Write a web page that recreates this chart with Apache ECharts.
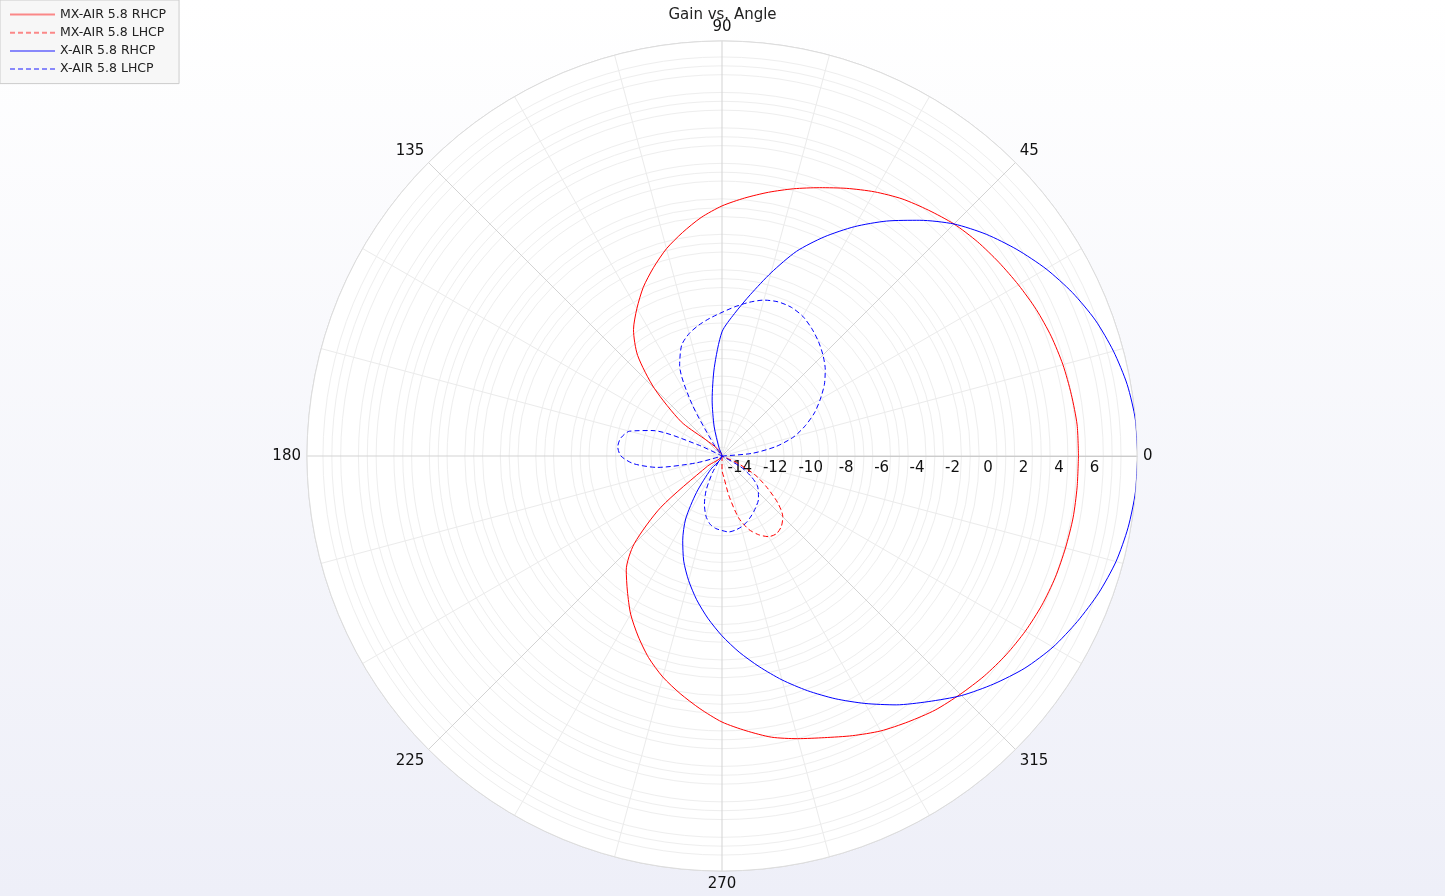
<!DOCTYPE html>
<html>
<head>
<meta charset="utf-8">
<script src="https://cdn.jsdelivr.net/npm/echarts@6/dist/echarts.min.js"></script>
<style>
html,body{margin:0;padding:0;width:1445px;height:896px;overflow:hidden;}
#chart{width:1445px;height:896px;}
</style>
</head>
<body>
<div id="chart"></div>
<script>
// Angles in degrees (every 5°)
const angles = [0,5,10,15,20,25,30,35,40,45,50,55,60,65,70,75,80,85,90,95,100,105,110,115,120,125,130,135,140,145,150,155,160,165,170,175,180,185,190,195,200,205,210,215,220,225,230,235,240,245,250,255,260,265,270,275,280,285,290,295,300,305,310,315,320,325,330,335,340,345,350,355,360];

const seriesNames = ['MX-AIR 5.8 RHCP','MX-AIR 5.8 LHCP','X-AIR 5.8 RHCP','X-AIR 5.8 LHCP'];

// Gain (dB) per angle
const mxRHCP = [5.1,5.1,5.0,4.9,4.75,4.55,4.3,4.05,3.8,3.5,
  3.1,2.7,2.2,1.65,1.1,0.6,0.1,-0.4,-0.9,-1.5,
  -2.2,-2.9,-3.7,-4.5,-5.4,-6.3,-7.6,-9.6,-12.0,-15,
  -15,-15,-15,-15,-15,-15,-15,-15,-15,-15,-15,-15,-15,
  -14.0,-10.5,-8.0,-6.6,-5.7,-4.7,-3.8,-2.9,-2.1,-1.4,-0.7,
  0.0,0.55,1.1,1.5,1.9,2.4,2.9,3.3,3.7,4.0,4.3,4.55,4.75,4.9,5.0,5.05,5.1,5.1,5.1];

const mxLHCP = [-15,-15,-15,-15,-15,-15,-15,-15,-15,-15,
  -15,-15,-15,-15,-15,-15,-15,-15,-15,-15,
  -15,-15,-15,-15,-15,-15,-15,-15,-15,-15,
  -15,-15,-15,-15,-15,-15,-15,-15,-15,-15,
  -15,-15,-15,-15,-15,-15,-15,-15,-15,-15,
  -15,-15,-15,-15,
  -14.2,-13.8,-12.7,-11.4,-10.6,-10.1,-9.75,-9.65,-9.8,-10.15,-10.9,-11.9,-12.8,-14.0,
  -15,-15,-15,-15,-15];

const xRHCP = [8.44,8.4,8.2,7.85,7.4,6.8,6.1,5.3,4.45,3.5,2.35,1.17,-0.07,-1.37,-2.72,-4.3,-5.75,-6.94,-8.0,-10.0,-11.8,-13.3,-14.5,
  -15,-15,-15,-15,-15,-15,-15,-15,-15,-15,-15,-15,-15,-15,-15,-15,-15,-15,-15,-15,-15,-15,-15,
  -14.0,-12.5,-10.9,-9.76,-8.69,-7.73,-6.77,-5.82,-4.86,-3.9,-2.94,-1.93,-0.92,0.1,1.11,2.13,3.08,4.1,5.0,5.85,6.55,7.1,7.6,8.0,8.25,8.4,8.44];

const xLHCP = [-15,-13.3,-11.9,-10.8,-10.0,-9.25,-8.6,-7.95,-7.4,-6.95,-6.55,-6.2,-5.9,-5.75,-5.75,-5.9,-6.2,-6.55,-6.9,-7.2,-7.5,-7.85,-8.35,-9.35,-11.6,-14.15,
  -15,-15,-15,-15,-15,
  -13.5,-10.8,-9.6,-9.2,-9.1,-9.3,-10.0,-11.3,-13.5,
  -15,-15,-15,-15,-15,-15,-15,-15,
  -14.0,-12.9,-12.1,-11.5,-11.1,-10.9,-10.8,-10.7,-10.75,-10.85,-11.0,-11.2,-11.4,-11.6,-11.8,-12.1,-12.4,-13.0,-13.8,
  -15,-15,-15,-15,-15,-15];

const angleTicks = [0,45,90,135,180,225,270,315];

const chart = echarts.init(document.getElementById('chart'), null, {renderer:'canvas'});
const FONT = 'DejaVu Sans';

function pairs(vals){ return vals.map((v,i)=>[v, angles[i]]); }

const colors = ['#ff0000','#ff0000','#0000ff','#0000ff'];
const dashed = [false,true,false,true];
const valueSets = [mxRHCP, mxLHCP, xRHCP, xLHCP];

const option = {
  animation:false,
  backgroundColor: new echarts.graphic.LinearGradient(0,0,0,1,[
    {offset:0,color:'#ffffff'},{offset:1,color:'#eeeff8'}
  ]),
  textStyle:{fontFamily:FONT},
  title:{
    text:'Gain vs. Angle', left:'center', top:3,
    textStyle:{fontFamily:FONT,fontSize:15,fontWeight:'normal',color:'#222'}
  },
  legend:{
    show:true,
    left:0, top:0, orient:'vertical',
    data: seriesNames,
    backgroundColor:'#f7f7f7', borderColor:'#cccccc', borderWidth:1,
    padding:[8,13,8,9],
    itemWidth:45, itemHeight:14, itemGap:5.2, itemTextGap:7,
    itemStyle:{opacity:0},
    lineStyle:{opacity:0.45},
    textStyle:{fontFamily:FONT,fontSize:12.5,color:'#222'}
  },
  polar:{center:[722,456], radius:415},
  angleAxis:{
    type:'value', min:0, max:360, interval:45, startAngle:0, clockwise:false,
    axisLine:{show:true,lineStyle:{color:'#dddddd',width:1}},
    axisTick:{show:false},
    axisLabel:{show:true,margin:6,fontFamily:FONT,fontSize:15,color:'#111',
      formatter:function(v){ return angleTicks.indexOf(v)>=0 ? String(v) : ''; }},
    splitLine:{show:true,lineStyle:{color:'#d3d3d3',width:1}},
    minorTick:{show:false,splitNumber:3},
    minorSplitLine:{show:true,lineStyle:{color:'#ebebeb',width:1}}
  },
  radiusAxis:{
    type:'value', min:-15, max:8.4, splitNumber:12,
    axisLine:{show:true,lineStyle:{color:'#cccccc'}},
    axisTick:{show:false},
    axisLabel:{show:true,fontFamily:FONT,fontSize:15,color:'#111',margin:-5,verticalAlign:'top',
      formatter:function(v){ return (v>-14.5 && v<7) ? String(v) : ''; }},
    splitLine:{show:true,lineStyle:{color:'#d6d6d6',width:1}},
    minorTick:{show:false,splitNumber:4},
    minorSplitLine:{show:true,lineStyle:{color:'#eeeeee',width:1}},
    splitArea:{show:true,areaStyle:{color:['#ffffff']}}
  },
  series: seriesNames.map((n,i)=>({
    name:n, type:'line', coordinateSystem:'polar',
    data: pairs(valueSets[i]),
    showSymbol:false, symbol:'none', smooth:0.25,
    label:{show:false}, endLabel:{show:false},
    itemStyle:{color:colors[i]},
    lineStyle:{color:colors[i], width:1, type: dashed[i] ? [5,3] : 'solid'}
  }))
};
chart.setOption(option);
</script>
</body>
</html>
